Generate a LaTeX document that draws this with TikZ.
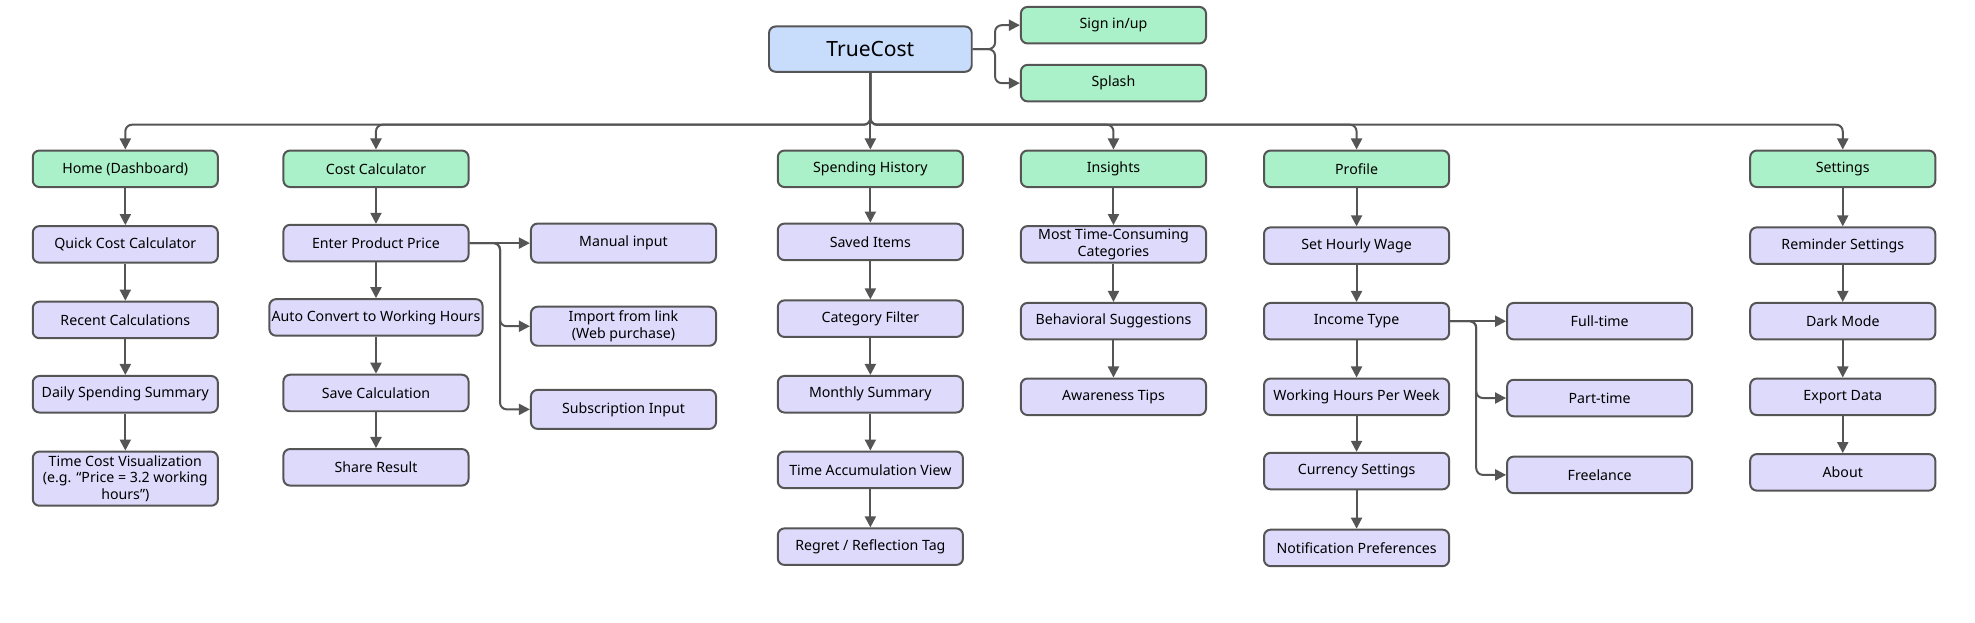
\documentclass[tikz,border=0pt]{standalone}
\usepackage{fontspec}
\setmainfont{Noto Sans}
\usetikzlibrary{arrows.meta}
\definecolor{gr}{HTML}{AAF0C8}
\definecolor{pu}{HTML}{DEDAFB}
\definecolor{bl}{HTML}{C8DCFC}
\definecolor{ln}{HTML}{555555}
\begin{document}
\begin{tikzpicture}[x=0.02cm,y=-0.02cm,
 box/.style={draw=ln,line width=0.9pt,rounded corners=3pt,minimum width=2.94cm,minimum height=0.58cm,align=center,font=\fontsize{6.4}{7.6}\selectfont,inner sep=1pt},
 g/.style={box,fill=gr}, p/.style={box,fill=pu},
 ar/.style={draw=ln,line width=0.9pt,-{Triangle[length=5pt,width=5pt]},rounded corners=3pt}]
\useasboundingbox (0,0) rectangle (1568,494.6);
\node[box,fill=bl,minimum width=3.22cm,minimum height=0.72cm,font=\fontsize{9.5}{11}\selectfont] (tc) at (691,39) {TrueCost};
\node[g] (sign) at (884,20) {Sign in/up};
\node[g] (spl) at (884,66) {Splash};
\coordinate (br) at (790,39);
\draw[ar] (tc.east) -- (br) |- (sign.west);
\draw[ar] (tc.east) -- (br) |- (spl.west);
\node[g] (home) at (99.5,134) {Home (Dashboard)};
\node[g] (cc) at (298.5,134) {Cost Calculator};
\node[g] (sh) at (691,134) {Spending History};
\node[g] (ins) at (884,134) {Insights};
\node[g] (pro) at (1077,134) {Profile};
\node[g] (set) at (1463,134) {Settings};
\foreach \n in {home,cc,sh,ins,pro,set}{
 \draw[ar] (tc.south) -- (691,99) -| (\n.north);}
% Home
\node[p] (q) at (99.5,194) {Quick Cost Calculator};
\node[p] (rc) at (99.5,254) {Recent Calculations};
\node[p] (ds) at (99.5,313) {Daily Spending Summary};
\node[p,minimum height=0.86cm] (tcv) at (99.5,380) {Time Cost Visualization\\(e.g. “Price = 3.2 working\\hours”)};
\draw[ar] (home)--(q); \draw[ar] (q)--(rc); \draw[ar] (rc)--(ds); \draw[ar] (ds)--(tcv);
% Cost
\node[p] (ep) at (298.5,193) {Enter Product Price};
\node[p] (ac) at (298.5,252) {Auto Convert to Working Hours};
\node[p] (sc) at (298.5,312) {Save Calculation};
\node[p] (sr) at (298.5,371) {Share Result};
\draw[ar] (cc)--(ep); \draw[ar] (ep)--(ac); \draw[ar] (ac)--(sc); \draw[ar] (sc)--(sr);
\node[p,minimum height=0.62cm] (mi) at (495,193) {Manual input};
\node[p,minimum height=0.62cm] (il) at (495,259) {Import from link\\(Web purchase)};
\node[p,minimum height=0.62cm] (si) at (495,325) {Subscription Input};
\coordinate (cb) at (397,193);
\draw[ar] (ep.east) -- (mi.west);
\draw[ar] (ep.east) -- (cb) |- (il.west);
\draw[ar] (ep.east) -- (cb) |- (si.west);
% Spending
\node[p] (s1) at (691,192) {Saved Items};
\node[p] (s2) at (691,253) {Category Filter};
\node[p] (s3) at (691,313) {Monthly Summary};
\node[p] (s4) at (691,373) {Time Accumulation View};
\node[p] (s5) at (691,434) {Regret / Reflection Tag};
\draw[ar] (sh)--(s1); \draw[ar] (s1)--(s2); \draw[ar] (s2)--(s3); \draw[ar] (s3)--(s4); \draw[ar] (s4)--(s5);
% Insights
\node[p] (i1) at (884,194) {Most Time-Consuming\\Categories};
\node[p] (i2) at (884,255) {Behavioral Suggestions};
\node[p] (i3) at (884,315) {Awareness Tips};
\draw[ar] (ins)--(i1); \draw[ar] (i1)--(i2); \draw[ar] (i2)--(i3);
% Profile
\node[p] (p1) at (1077,195) {Set Hourly Wage};
\node[p] (p2) at (1077,255) {Income Type};
\node[p] (p3) at (1077,315) {Working Hours Per Week};
\node[p] (p4) at (1077,374) {Currency Settings};
\node[p] (p5) at (1077,435) {Notification Preferences};
\draw[ar] (pro)--(p1); \draw[ar] (p1)--(p2); \draw[ar] (p2)--(p3); \draw[ar] (p3)--(p4); \draw[ar] (p4)--(p5);
\node[p] (f1) at (1270,255) {Full-time};
\node[p] (f2) at (1270,316) {Part-time};
\node[p] (f3) at (1270,377) {Freelance};
\coordinate (pb) at (1172,255);
\draw[ar] (p2.east) -- (f1.west);
\draw[ar] (p2.east) -- (pb) |- (f2.west);
\draw[ar] (p2.east) -- (pb) |- (f3.west);
% Settings
\node[p] (t1) at (1463,195) {Reminder Settings};
\node[p] (t2) at (1463,255) {Dark Mode};
\node[p] (t3) at (1463,315) {Export Data};
\node[p] (t4) at (1463,375) {About};
\draw[ar] (set)--(t1); \draw[ar] (t1)--(t2); \draw[ar] (t2)--(t3); \draw[ar] (t3)--(t4);
\end{tikzpicture}
\end{document}
